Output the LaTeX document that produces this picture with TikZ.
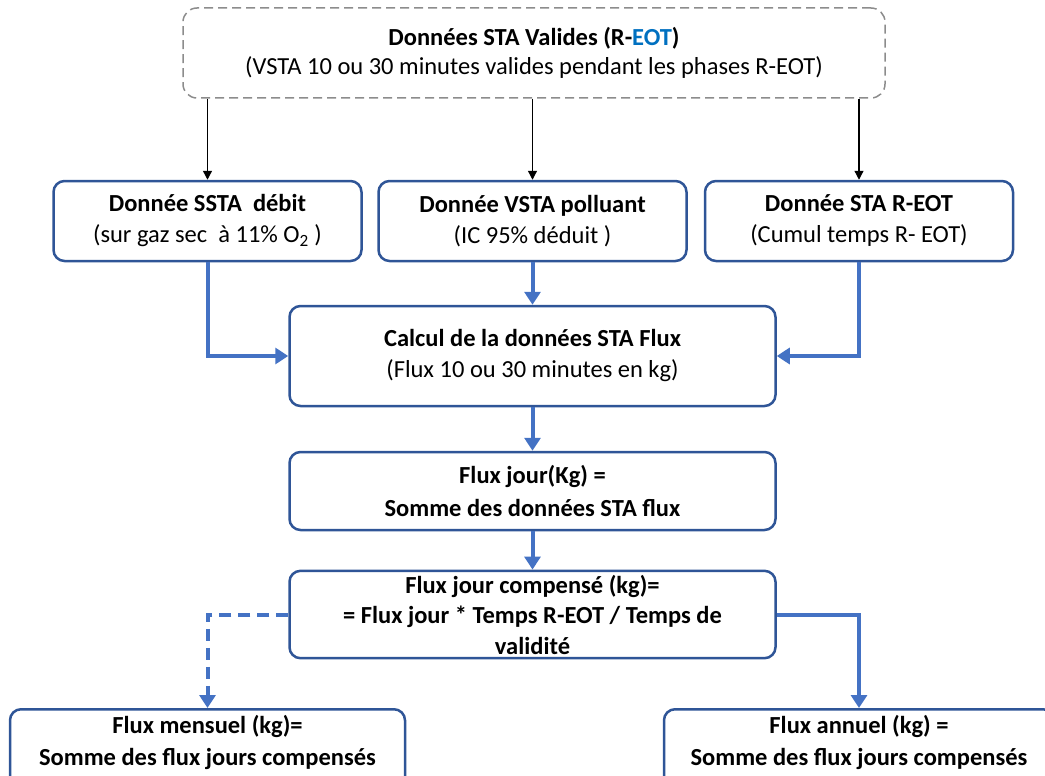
\documentclass[tikz,border=0pt]{standalone}
\usepackage{fontspec}
\setmainfont{Carlito}
\usetikzlibrary{arrows.meta,positioning}
\definecolor{boxblue}{HTML}{2F5597}
\definecolor{flowblue}{HTML}{4472C4}
\definecolor{eotblue}{HTML}{0070C0}
\definecolor{dashgray}{HTML}{8C8C8C}
\tikzset{
  databox/.style={draw=boxblue, line width=2.5pt, rounded corners=11pt, fill=white,
    align=center, minimum width=308pt, minimum height=80pt, inner sep=4pt},
  widebox/.style={databox, minimum width=486pt},
  resbox/.style={databox, anchor=north, inner ysep=6pt, minimum height=0pt, text depth=28pt,
    font=\fontsize{24.5}{32}\bfseries},
  srcbox/.style={draw=dashgray, line width=1.5pt, dash pattern=on 9pt off 5pt,
    rounded corners=14pt, align=center, minimum width=702pt, minimum height=90pt},
  feed/.style={line width=1.3pt, -{Triangle[length=9pt,width=9pt]}},
  flow/.style={draw=flowblue, line width=4pt, -{Triangle[length=13pt,width=16pt]}},
  flowdash/.style={flow, dash pattern=on 12pt off 7pt},
}
\begin{document}
\begin{tikzpicture}[x=1pt, y=-1pt, font=\fontsize{24.5}{31}\selectfont]
\useasboundingbox (0,0) rectangle (1045,776);
\clip (0,0) rectangle (1045,776);

% source data
\node[srcbox, font=\fontsize{24.5}{29}\selectfont] (src) at (534,53) {\textbf{Données STA Valides (R-\textcolor{eotblue}{EOT})}\\
  (VSTA 10 ou 30 minutes valides pendant les phases R-EOT)};

% input data
\node[databox] (ssta) at (207.5,221) {\textbf{Donnée SSTA\ \ débit}\\(sur gaz sec\ \ à 11\% O\textsubscript{2} )};
\node[databox] (vsta) at (532.5,221) {\textbf{Donnée VSTA polluant}\\(IC 95\% déduit )};
\node[databox] (reot) at (859,221) {\textbf{Donnée STA R-EOT}\\(Cumul temps R- EOT)};

% processing chain
\node[widebox, minimum height=100pt] (calc) at (532.5,356) {\textbf{Calcul de la données STA Flux}\\(Flux 10 ou 30 minutes en kg)};
\node[widebox, minimum height=78pt, font=\fontsize{24.5}{33}\bfseries] (jour) at (532.5,491) {Flux jour(Kg) =\\Somme des données STA flux};
\node[widebox, minimum height=85pt, font=\fontsize{24.5}{30.5}\bfseries] (comp) at (532.5,614.5) {Flux jour compensé (kg)=\\= Flux jour * Temps R-EOT / Temps de\\validité};

% results
\node[resbox, minimum width=395pt] (mens) at (207.5,708) {Flux mensuel (kg)=\\Somme des flux jours compensés};
\node[resbox, minimum width=390pt] (ann) at (859,708) {Flux annuel (kg) =\\Somme des flux jours compensés};

\draw[feed] (src.south -| ssta.north) -- (ssta.north);
\draw[feed] (src.south -| vsta.north) -- (vsta.north);
\draw[feed] (src.south -| reot.north) -- (reot.north);

\draw[flow] (ssta.south) |- (calc.west);
\draw[flow] (vsta.south) -- (calc.north);
\draw[flow] (reot.south) |- (calc.east);
\draw[flow] (calc.south) -- (jour.north);
\draw[flow] (jour.south) -- (comp.north);
\draw[flowdash] (comp.west) -| (mens.north);
\draw[flow] (comp.east) -| (ann.north);
\end{tikzpicture}
\end{document}
